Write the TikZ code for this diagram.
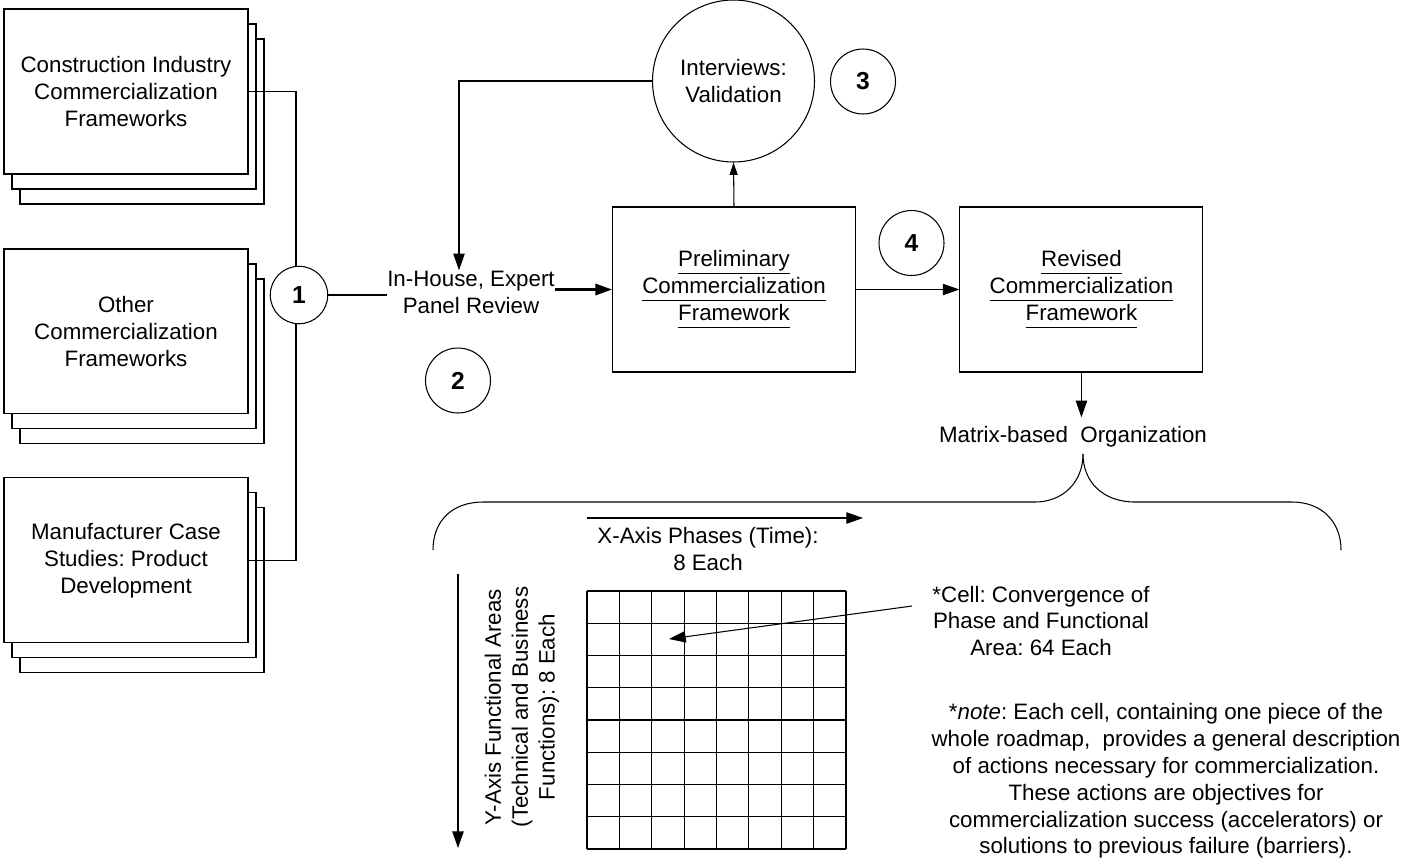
\documentclass[tikz,border=0pt]{standalone}
\usepackage{fontspec}
\setmainfont{Liberation Sans}
\usetikzlibrary{arrows.meta,calc,positioning,shadows}
\newcommand\ulin[1]{\underline{#1\vphantom{y}}}
\frenchspacing

\begin{document}
\begin{tikzpicture}[x=0.02cm, y=-0.02cm, node distance=1cm, on grid,
					line width=.6pt,
					>={Triangle[length=9.5pt,width=6.5pt]},
					every node/.style={font=\fontsize{12.7}{15.3}\selectfont, align=center},
					srcbox/.style={draw, fill=white, minimum width=4.88cm, minimum height=3.3cm, inner sep=0pt,
						copy shadow={shadow xshift=.32cm, shadow yshift=-.6cm},
						copy shadow={shadow xshift=.16cm, shadow yshift=-.3cm}},
					fwbox/.style={draw, minimum width=4.86cm, minimum height=3.3cm, inner sep=0pt},
					numc/.style={draw, circle, fill=white, minimum size=1.3cm, inner sep=0pt,
						font=\bfseries\fontsize{14}{16}\selectfont},
					heavy/.style={line width=1.3pt}
				]
				\useasboundingbox (0,0) rectangle (1405,860);
				\node[srcbox] (ci) at (126,91.5) {Construction Industry\\Commercialization\\Frameworks};
				\node[srcbox] (oc) [below=4.8cm of ci] {Other\\Commercialization\\Frameworks};
				\node[srcbox] (mc) [below=4.58cm of oc] {Manufacturer Case\\Studies: Product\\Development};
				\coordinate (bus) at (296,0);
				\draw (ci.east) -| (bus |- mc.east) -- (mc.east);
				\node[numc, minimum size=1.15cm] (c1) at (299,295) {1};
				
				\node[inner sep=0pt] (pan) at (471,292) {In-House, Expert\\Panel Review};
				\draw[heavy] (c1.east) -- (c1.east -| pan.west);
				\node[fwbox] (pre) at (734,289.5) {\ulin{Preliminary}\\\ulin{Commercialization}\\\ulin{Framework}};
				\draw[heavy,->] (pan.east |- pre.west) -- (pre.west);
				
				\node[circle, draw, minimum size=3.24cm, inner sep=0pt] (int) at (733.5,81) {Interviews:\\Validation};
				\draw[->, >={Triangle[length=7pt,width=4.5pt]}] (pre.north) -- (int.south);
				\draw[->] (int.west) -| ([xshift=-.24cm]pan.north);
				\node[numc] (c3) at (863,81.5) {3};
				
				\node[fwbox] (rev) [right=6.95cm of pre] {\ulin{Revised}\\\ulin{Commercialization}\\\ulin{Framework}};
				\draw[->] (pre.east) -- (rev.west);
				\node[numc] (c4) at (911.5,243) {4};
				\node[numc] (c2) at (458,380.5) {2};
				
				\node[inner sep=5pt] (mat) at (1073,437) {Matrix-based~ Organization};
				\draw[->] (rev.south) -- (rev.south |- mat.north);
				\coordinate (tip) at (1083,454);
				\draw (433,550) .. controls (433,520) and (453,502) .. (483,502) -- (1035,502)
					.. controls (1063,502) and (1083,482) .. (tip);
				\draw (tip) .. controls (1083,482) and (1103,502) .. (1135,502) -- (1292,502)
					.. controls (1322,502) and (1341,522) .. (1341,550);
				
				% axes and matrix
				\coordinate (xa) at (587,518);
				\coordinate (xb) at (863,518);
				\draw[->] (xa) -- (xb);
				\node (xax) at (708,549) {X-Axis Phases (Time):\\8 Each};
				\coordinate (ya) at (458,574);
				\coordinate (yb) at (458,848);
				\draw[->] (ya) -- (yb);
				\node[rotate=90] (yax) at (522,707) {Y-Axis Functional Areas\\(Technical and Business\\Functions): 8 Each};
				\foreach \i in {0,...,8} {
					\draw (587+32.375*\i,591) -- (587+32.375*\i,849);
					\draw (587,591+32.25*\i) -- (846,591+32.25*\i);
				}
				
				\node (cel) at (1041,621) {*Cell: Convergence of\\Phase and Functional\\Area: 64 Each};
				\coordinate (cf) at (912,606);
				\coordinate (ct) at (669,639);
				\draw[->] (cf) -- (ct);
				\node (nte) at (1166,781) {*\textit{note}: Each cell, containing one piece of the\\whole roadmap,~ provides a general description\\of actions necessary for commercialization.\\These actions are objectives for\\commercialization success (accelerators) or\\solutions to previous failure (barriers).};
			\end{tikzpicture}
\end{document}
